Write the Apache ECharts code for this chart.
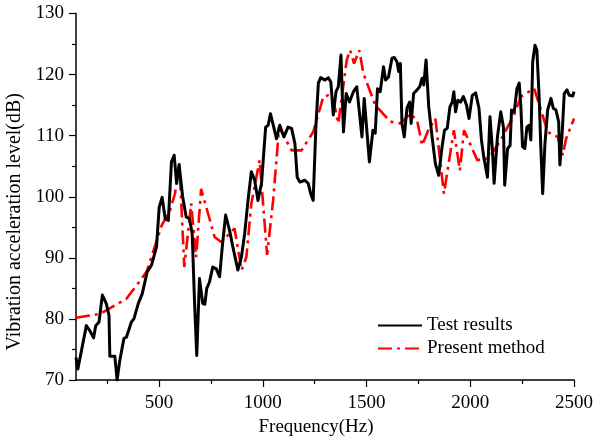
<!DOCTYPE html>
<html>
<head>
<meta charset="utf-8">
<title>Vibration acceleration level</title>
<script src="https://cdn.jsdelivr.net/npm/echarts@6/dist/echarts.min.js"></script>
<style>
  html, body { margin: 0; padding: 0; background: #fff; }
  #main { width: 597px; height: 441px; }
</style>
</head>
<body>
<div id="main"></div>
<script>
// 试验结果 (Test results)
const testFreq = [
  100, 109, 118, 150, 166, 185, 195, 211, 227, 234, 246, 259, 263, 287, 298, 311, 331, 343, 367, 379,
  400, 419, 443, 464, 488, 501, 515, 530, 545, 560, 573, 585, 597, 614, 631, 647, 660, 671, 682, 695,
  711, 721, 730, 743, 759, 776, 792, 805, 821, 840, 856, 880, 897, 913, 929, 945, 961, 977, 994, 1014,
  1026, 1037, 1053, 1066, 1082, 1102, 1122, 1139, 1155, 1166, 1179, 1203, 1219, 1231, 1243, 1256, 1268, 1279, 1300, 1316,
  1328, 1340, 1353, 1364, 1377, 1389, 1402, 1418, 1437, 1453, 1478, 1489, 1514, 1531, 1542, 1553, 1566, 1582, 1592, 1606,
  1623, 1634, 1647, 1655, 1663, 1671, 1682, 1695, 1708, 1715, 1727, 1744, 1756, 1768, 1776, 1787, 1800, 1816, 1832, 1848,
  1865, 1876, 1889, 1902, 1913, 1921, 1929, 1940, 1953, 1967, 1982, 1994, 2010, 2026, 2042, 2054, 2066, 2083, 2095, 2107,
  2115, 2131, 2147, 2160, 2166, 2180, 2192, 2199, 2212, 2225, 2236, 2244, 2252, 2263, 2273, 2284, 2292, 2301, 2312, 2321,
  2332, 2340, 2349, 2360, 2373, 2389, 2400, 2413, 2426, 2432, 2442, 2453, 2466, 2477, 2494, 2500
];
const testLevel = [
  73.7, 71.8, 71.8, 78.9, 78.1, 76.9, 78.9, 79.5, 83.9, 84.0, 82.5, 80.6, 73.9, 73.9, 70.0, 73.2, 76.8, 77.0, 79.5, 80.0,
  82.5, 84.1, 87.7, 88.8, 91.8, 98.3, 99.9, 96.4, 96.1, 105.7, 106.8, 102.2, 105.2, 100.0, 96.7, 96.4, 94.0, 83.0, 74.0, 86.6,
  82.5, 82.4, 85.0, 86.0, 88.5, 88.2, 86.9, 91.8, 97.0, 94.5, 91.8, 88.0, 90.1, 94.0, 99.4, 104.1, 102.7, 99.4, 102.2, 111.4,
  111.7, 113.6, 111.4, 109.5, 111.7, 109.8, 111.4, 111.2, 108.7, 103.2, 102.4, 102.7, 102.2, 100.5, 99.4, 111.4, 118.6, 119.5, 119.1, 119.5,
  118.8, 113.4, 117.2, 118.0, 123.2, 110.6, 116.9, 115.5, 117.2, 118.0, 109.8, 116.1, 105.7, 110.9, 110.4, 117.7, 117.2, 121.3, 119.1, 119.6,
  122.7, 122.8, 122.1, 120.5, 121.8, 112.0, 109.8, 114.5, 115.5, 112.0, 116.9, 117.5, 118.0, 119.4, 118.3, 122.4, 114.7, 109.8, 105.4, 103.5,
  108.4, 110.9, 111.2, 114.7, 115.5, 117.2, 113.9, 115.8, 115.5, 116.4, 115.0, 112.8, 116.6, 117.0, 114.5, 109.3, 106.3, 103.2, 113.1, 107.6,
  102.2, 109.8, 113.9, 111.4, 101.9, 107.9, 108.4, 114.2, 113.9, 117.7, 118.6, 114.7, 108.2, 107.9, 111.4, 111.7, 109.3, 122.1, 124.8, 124.0,
  116.4, 108.2, 100.5, 108.7, 114.2, 116.1, 114.5, 114.2, 112.3, 105.2, 109.8, 116.9, 117.5, 116.6, 116.5, 117.2
];

// 本文方法 (Present method)
const methodFreq = [
  100, 214, 343, 440, 513, 553, 577, 598, 622, 655, 679, 703, 768, 800, 864, 898, 921, 945, 985, 1021,
  1050, 1079, 1139, 1187, 1243, 1292, 1316, 1340, 1364, 1405, 1421, 1440, 1465, 1485, 1542, 1615, 1663, 1711, 1744, 1768,
  1799, 1832, 1873, 1897, 1921, 1950, 1970, 2034, 2089, 2147, 2211, 2244, 2308, 2341, 2373, 2421, 2446, 2462, 2500
];
const methodLevel = [
  80.2, 80.8, 83.3, 87.7, 95.3, 97.8, 100.5, 105.5, 88.5, 98.9, 90.1, 101.3, 93.4, 92.6, 94.8, 88.0, 90.1, 98.9, 106.0, 90.5,
  99.4, 111.4, 107.6, 107.6, 110.6, 116.4, 116.6, 115.8, 112.0, 122.4, 124.0, 121.8, 124.0, 120.2, 115.0, 112.3, 112.0, 113.6, 112.5, 108.4,
  111.0, 112.8, 100.5, 105.7, 110.9, 104.3, 110.9, 106.0, 106.3, 109.3, 113.4, 116.4, 117.7, 114.2, 110.6, 109.8, 106.8, 109.5, 112.8
];

// 刻度
const yTicks = [70, 80, 90, 100, 110, 120, 130];
const xLabelValues = [500, 1000, 1500, 2000, 2500];
const xMinorValues = [250, 750, 1250, 1750, 2250];

const fontFamily = '"Liberation Serif", "Times New Roman", serif';

const chart = echarts.init(document.getElementById('main'));

const testData = testFreq.map((f, i) => [f, testLevel[i]]);
const methodData = methodFreq.map((f, i) => [f, methodLevel[i]]);

const option = {
  animation: false,
  backgroundColor: '#fff',
  textStyle: { fontFamily: fontFamily, color: '#000' },
  grid: {
    left: 76,
    right: 23,
    top: 13.5,
    bottom: 61,
    containLabel: false,
    outerBoundsMode: 'none'
  },
  legend: {
    orient: 'vertical',
    left: 372,
    top: 311,
    itemWidth: 44,
    itemHeight: 14,
    itemGap: 4,
    // 只画线，不要圆点
    itemStyle: { opacity: 0 },
    textStyle: { fontFamily: fontFamily, fontSize: 19, color: '#000', lineHeight: 19 },
    data: ['Test results', 'Present method']
  },
  xAxis: [
    {
      type: 'value',
      min: 100,
      max: 2500,
      name: 'Frequency(Hz)',
      nameLocation: 'middle',
      nameGap: 38,
      nameTextStyle: { fontFamily: fontFamily, fontSize: 19, color: '#000', padding: [0, 18, 0, 0] },
      axisLine: { show: true, lineStyle: { color: '#000', width: 1.5 } },
      axisTick: { show: true, length: 7, lineStyle: { color: '#000', width: 1.2 }, customValues: xLabelValues },
      axisLabel: {
        customValues: xLabelValues,
        fontFamily: fontFamily,
        fontSize: 19,
        color: '#000',
        margin: 14,
        formatter: (v) => String(v)
      },
      splitLine: { show: false }
    },
    {
      // 次刻度
      type: 'value',
      min: 100,
      max: 2500,
      position: 'bottom',
      axisLine: { show: false },
      axisTick: { show: true, length: 4, lineStyle: { color: '#000', width: 1.2 }, customValues: xMinorValues },
      axisLabel: { show: false },
      splitLine: { show: false }
    }
  ],
  yAxis: {
    type: 'value',
    min: yTicks[0],
    max: yTicks[yTicks.length - 1],
    interval: 10,
    name: 'Vibration acceleration level(dB)',
    nameLocation: 'middle',
    nameGap: 42,
    nameTextStyle: { fontFamily: fontFamily, fontSize: 20, color: '#000', padding: [0, 50, 0, 0] },
    axisLine: { show: true, lineStyle: { color: '#000', width: 1.5 } },
    axisTick: { show: true, length: 7, lineStyle: { color: '#000', width: 1.2 } },
    minorTick: { show: true, splitNumber: 2, length: 4, lineStyle: { color: '#000', width: 1.2 } },
    axisLabel: { fontFamily: fontFamily, fontSize: 19, color: '#000', margin: 12 },
    splitLine: { show: false },
    minorSplitLine: { show: false }
  },
  series: [
    {
      name: 'Test results',
      type: 'line',
      data: testData,
      symbol: 'none',
      showSymbol: false,
      color: '#000',
      lineStyle: { color: '#000', width: 3, join: 'round' },
      z: 3
    },
    {
      name: 'Present method',
      type: 'line',
      data: methodData,
      symbol: 'none',
      showSymbol: false,
      color: '#ff0000',
      lineStyle: { color: '#ff0000', width: 2.6, type: [14, 5, 3, 5] },
      z: 2
    }
  ]
};

chart.setOption(option);
</script>
</body>
</html>
